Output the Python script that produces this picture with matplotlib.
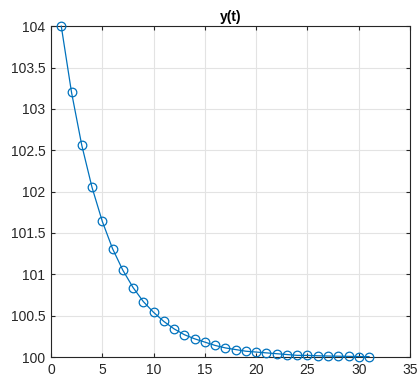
import matplotlib
matplotlib.use("Agg")
import matplotlib.pyplot as plt

t = list(range(1, 32))
y = [104.0, 103.2, 102.56, 102.05, 101.64, 101.31, 101.05, 100.84, 100.67, 100.54,
     100.43, 100.34, 100.27, 100.22, 100.18, 100.14, 100.11, 100.09, 100.07, 100.06,
     100.05, 100.04, 100.03, 100.02, 100.02, 100.015, 100.012, 100.01, 100.008, 100.006, 100.005]
xticks = [0, 5, 10, 15, 20, 25, 30, 35]
yticks = [100, 100.5, 101, 101.5, 102, 102.5, 103, 103.5, 104]
ytick_labels = ["100", "100.5", "101", "101.5", "102", "102.5", "103", "103.5", "104"]

plt.rcParams['font.family'] = ['Liberation Sans', 'DejaVu Sans']
fig = plt.figure(figsize=(4.18, 3.79), dpi=100)
ax = fig.add_axes([0.122, 0.058, 0.859, 0.873])
ax.plot(t, y, color='#0072BD', lw=0.9, marker='o', ms=6.2, mfc='none', mec='#0072BD', mew=0.9, clip_on=False, zorder=3)
ax.set_xlim(0, 35)
ax.set_ylim(100, 104)
ax.set_xticks(xticks)
ax.set_yticks(yticks)
ax.set_yticklabels(ytick_labels)
ax.grid(True, color='#E3E3E3', lw=0.8)
ax.set_axisbelow(True)
for s in ax.spines.values():
    s.set_color('#262626')
    s.set_linewidth(0.8)
ax.tick_params(direction='in', top=True, right=True, length=3, width=0.8, colors='#262626', labelsize=10, pad=4)
ax.set_title('y(t)', fontsize=10, fontweight='bold', color='black', pad=4)
fig.savefig('out.png', dpi=100)
